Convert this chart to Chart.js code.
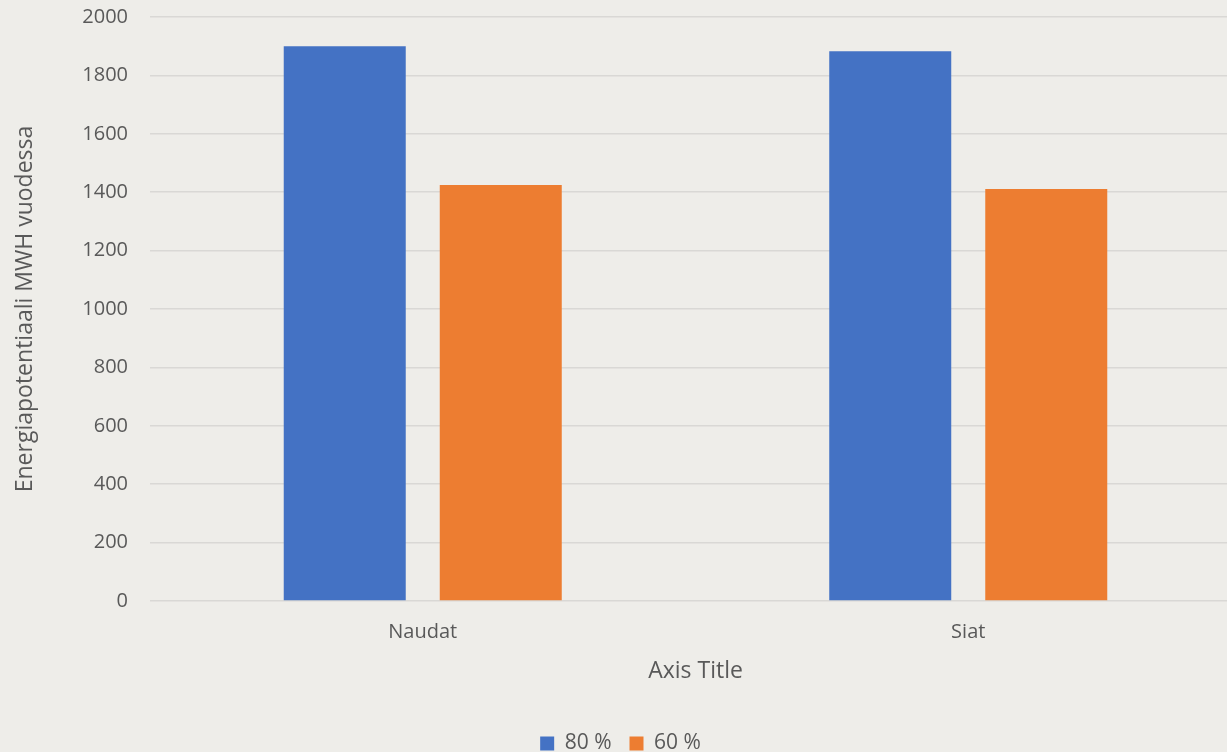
<!DOCTYPE html>
<html lang="fi">
<head>
    <meta charset="UTF-8">
    <title>Energiapotentiaali</title>
    <script src="https://cdn.jsdelivr.net/npm/chart.js"></script>
    <style>
        html, body {
            margin: 0;
            padding: 0;
            width: 1227px;
            height: 752px;
            overflow: hidden;
            background-color: #eeede9;
        }
        #chart {
            display: block;
            margin-top: -17px;
        }
    </style>
</head>
<body>
    <canvas id="chart" width="1241" height="781"></canvas>

    <script>
        // Kategoriat ja sarjat
        const categories = ['Naudat', 'Siat'];
        const series80 = [1900, 1883];
        const series60 = [1425, 1411];
        const seriesLabels = ['80 %', '60 %'];

        const textColor = '#595959';
        const fontFamily = "'Open Sans', sans-serif";
        const tickFont = { family: fontFamily, size: 20 };
        const titleFont = { family: fontFamily, size: 23 };
        const legendFont = { family: fontFamily, size: 21 };

        Chart.defaults.color = textColor;
        Chart.defaults.font.family = fontFamily;
        Chart.defaults.font.size = 20;

        new Chart(document.getElementById('chart'), {
            type: 'bar',
            data: {
                labels: categories,
                datasets: [
                    {
                        label: seriesLabels[0],
                        data: series80,
                        backgroundColor: '#4472c4',
                        borderWidth: 0
                    },
                    {
                        label: seriesLabels[1],
                        data: series60,
                        backgroundColor: '#ed7d31',
                        borderWidth: 0
                    }
                ]
            },
            options: {
                responsive: false,
                animation: false,
                devicePixelRatio: 1,
                categoryPercentage: 0.572,
                barPercentage: 0.782,
                layout: {
                    padding: 0
                },
                plugins: {
                    tooltip: { enabled: false },
                    legend: {
                        position: 'bottom',
                        labels: {
                            boxWidth: 14,
                            boxHeight: 14,
                            padding: 18,
                            color: textColor,
                            font: legendFont
                        }
                    }
                },
                scales: {
                    x: {
                        grid: { display: false },
                        border: { display: false },
                        ticks: { padding: 11, color: textColor, font: tickFont },
                        title: {
                            display: true,
                            text: 'Axis Title',
                            color: textColor,
                            font: titleFont,
                            padding: { top: 0, bottom: 30 }
                        },
                        afterFit: (scale) => { scale.height = 114; }
                    },
                    y: {
                        min: 0,
                        max: 2000,
                        grid: {
                            color: '#d9d8d5',
                            lineWidth: 1.5,
                            drawTicks: false
                        },
                        border: { display: false },
                        ticks: {
                            stepSize: 200,
                            padding: 22,
                            color: textColor,
                            font: tickFont,
                            callback: (value) => String(value)
                        },
                        title: {
                            display: true,
                            text: 'Energiapotentiaali MWH vuodessa',
                            color: textColor,
                            font: titleFont,
                            padding: { top: 12, bottom: 0 }
                        },
                        afterFit: (scale) => { scale.width = 150; }
                    }
                }
            }
        });
    </script>
</body>
</html>
